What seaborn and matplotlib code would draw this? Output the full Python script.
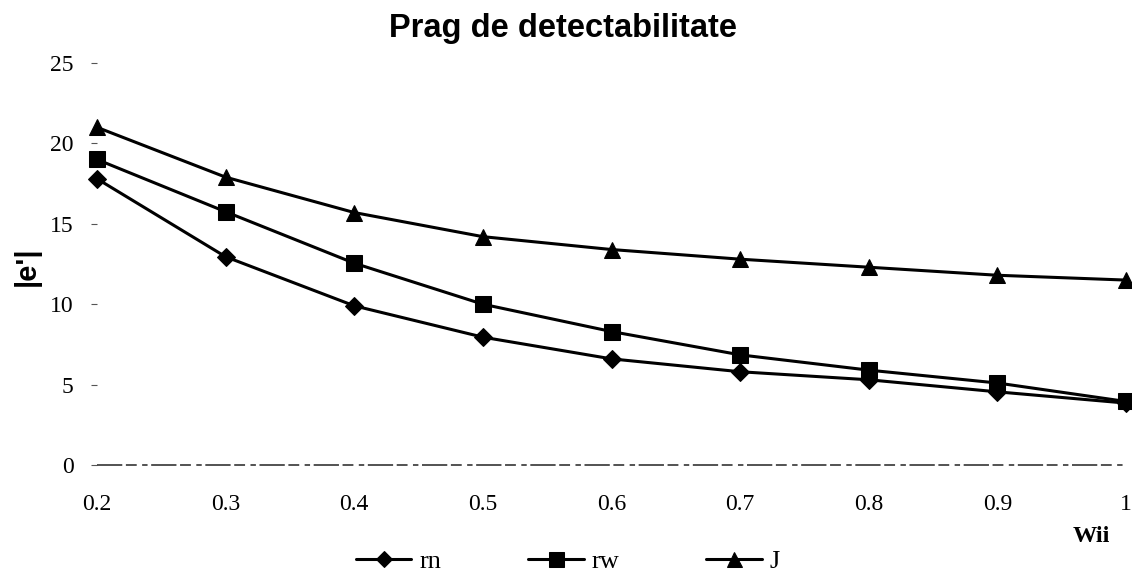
import matplotlib
matplotlib.use("Agg")
import matplotlib.pyplot as plt
import seaborn as sns
import pandas as pd

# Detectability threshold |e'| against weight Wii
wii = [0.2, 0.3, 0.4, 0.5, 0.6, 0.7, 0.8, 0.9, 1.0]
wii_labels = ["0.2", "0.3", "0.4", "0.5", "0.6", "0.7", "0.8", "0.9", "1"]
rn = [17.8, 12.95, 9.9, 7.95, 6.6, 5.8, 5.3, 4.55, 3.85]
rw = [19.0, 15.75, 12.55, 10.0, 8.3, 6.85, 5.9, 5.1, 3.95]
J = [21.0, 17.9, 15.7, 14.2, 13.4, 12.8, 12.3, 11.8, 11.5]
series_names = ["rn", "rw", "J"]
y_ticks = [0, 5, 10, 15, 20, 25]

df = pd.DataFrame({
    "Wii": wii * 3,
    "val": rn + rw + J,
    "serie": [s for s in series_names for _ in wii],
})

sns.set_theme(style="white")
plt.rcParams["font.family"] = ["Liberation Serif", "DejaVu Serif"]
plt.rcParams["text.color"] = "black"
plt.rcParams["xtick.color"] = "black"
plt.rcParams["ytick.color"] = "black"

fig = plt.figure(figsize=(11.32, 5.79), dpi=100)
ax = fig.add_axes([97 / 1132, 114 / 579, (1126 - 97) / 1132, (465 - 63) / 579])

markers = {"rn": "D", "rw": "s", "J": "^"}
sizes = {"rn": 9, "rw": 12, "J": 12}
for name in series_names:
    sub = df[df["serie"] == name]
    sns.lineplot(data=sub, x="Wii", y="val", ax=ax, color="black",
                 linewidth=2.2, marker=markers[name], markersize=sizes[name],
                 markeredgecolor="black", markerfacecolor="black",
                 label=name, clip_on=False, zorder=3)

# zero reference line, drawn broken like the printed axis
ax.axhline(0, xmin=0, xmax=1.0, color="#444444", linewidth=1.3,
           dashes=(14, 2, 6, 3, 3, 2), zorder=1, clip_on=False)

ax.set_xlim(0.2, 1.0)
ax.set_ylim(0, 25)
ax.set_xticks(wii)
ax.set_xticklabels(wii_labels)
ax.set_yticks(y_ticks)
for s in ax.spines.values():
    s.set_visible(False)
ax.tick_params(axis="y", left=True, length=4, width=0.8, color="#555555",
               pad=13, labelsize=17, labelcolor="black")
ax.tick_params(axis="x", bottom=False, pad=15, labelsize=17,
               labelcolor="black")
ax.set_xlabel("")
ax.set_ylabel("")
ax.grid(False)

fig.text(27 / 1132, 1 - 266 / 579, "|e'|", family="Liberation Sans",
         fontweight="bold", fontsize=21, rotation=90,
         ha="center", va="center", color="black")
fig.text(563 / 1132, 1 - 28 / 579, "Prag de detectabilitate",
         family="Liberation Sans", fontweight="bold", fontsize=23.5,
         ha="center", va="center", color="black")
fig.text(1091 / 1132, 1 - 536 / 579, "Wii", fontweight="bold",
         fontsize=17.5, ha="center", va="center", color="black")

leg = ax.legend(loc="center", bbox_to_anchor=(568 / 1132, 1 - 561 / 579),
                bbox_transform=fig.transFigure, ncol=3, frameon=False,
                fontsize=19, handlelength=2.1, handletextpad=0.3,
                columnspacing=3.3, markerscale=0.9)
for t in leg.get_texts():
    t.set_color("black")

fig.savefig("out.png", dpi=100, facecolor="white")
